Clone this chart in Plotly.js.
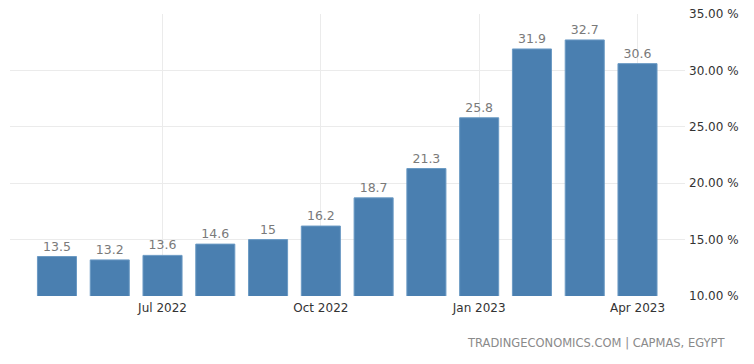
<!DOCTYPE html>
<html><head><meta charset="utf-8">
<script src="https://cdn.plot.ly/plotly-3.0.1.min.js"></script>
<style>html,body{margin:0;padding:0;background:#fff}#c{width:754px;height:364px}</style>
</head><body><div id="c"></div>
<script>
const months = ["May 2022","Jun 2022","Jul 2022","Aug 2022","Sep 2022","Oct 2022","Nov 2022","Dec 2022","Jan 2023","Feb 2023","Mar 2023","Apr 2023"];
const inflation = [13.5, 13.2, 13.6, 14.6, 15, 16.2, 18.7, 21.3, 25.8, 31.9, 32.7, 30.6];
const tickMonths = ["Jul 2022","Oct 2022","Jan 2023","Apr 2023"];
const source = "TRADINGECONOMICS.COM | CAPMAS, EGYPT";

const trace = {
  type: "bar", x: months, y: inflation,
  marker: {color: "#4a7fb0", line: {color: "#6b9ac4", width: 1}},
  text: inflation.map(String), textposition: "outside", cliponaxis: false,
  textfont: {family: "DejaVu Sans, sans-serif", size: 12.5, color: "#7a7a7a"},
  width: 0.74, hoverinfo: "none"
};
const layout = {
  width: 754, height: 364,
  margin: {l: 10, r: 69, t: 14, b: 68},
  paper_bgcolor: "#fff", plot_bgcolor: "#fff",
  showlegend: false,
  xaxis: {type: "category", range: [-0.89, 11.9], tickmode: "array", tickvals: tickMonths, ticktext: tickMonths,
    showgrid: true, gridcolor: "#ebebeb", zeroline: false, showline: false, ticks: "", ticklabelstandoff: 3,
    tickfont: {family: "DejaVu Sans, sans-serif", size: 12, color: "#333"}},
  yaxis: {side: "right", range: [10, 35], dtick: 5, tick0: 10, tickformat: ".2f", ticksuffix: " %",
    showgrid: true, gridcolor: "#ebebeb", zeroline: false, showline: false, ticks: "", ticklabelstandoff: 3,
    tickfont: {family: "DejaVu Sans, sans-serif", size: 12, color: "#333"}},
  annotations: [{text: source, xref: "paper", yref: "paper", x: 1.062, y: -0.135, xanchor: "right", yanchor: "top",
    showarrow: false, font: {family: "DejaVu Sans, sans-serif", size: 11.5, color: "#8a8a8a"}}]
};
Plotly.newPlot("c", [trace], layout, {displayModeBar: false, staticPlot: true});
</script></body></html>
